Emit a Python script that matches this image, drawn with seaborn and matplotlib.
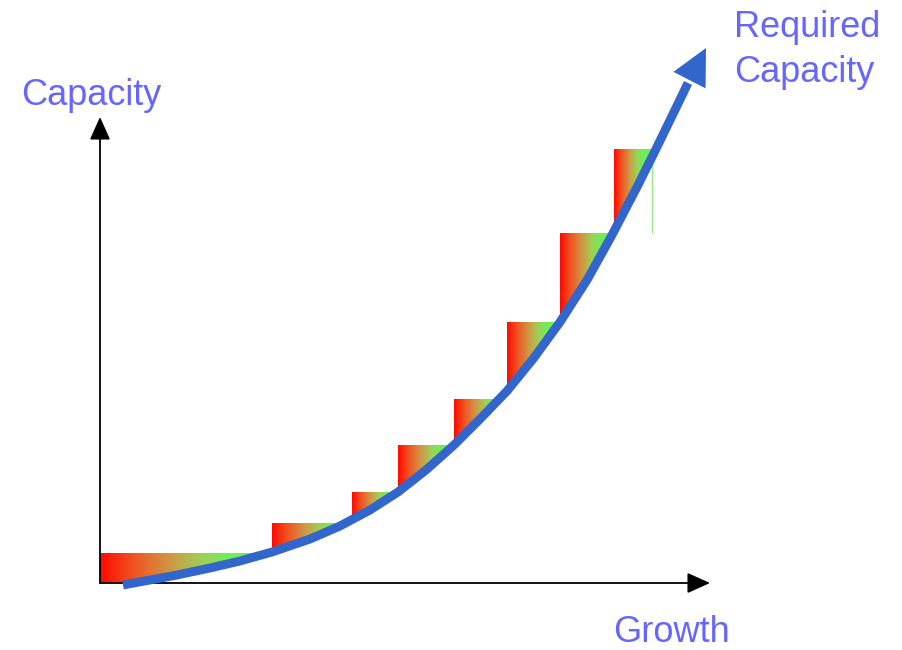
import numpy as np
import matplotlib
matplotlib.use("Agg")
import matplotlib.pyplot as plt
from matplotlib.colors import LinearSegmentedColormap
from matplotlib.patches import Polygon
import pandas as pd
import seaborn as sns

# Capacity added in steps: edges along the growth axis and the level of each step
step_edges = [0, 172, 252, 298, 354, 407, 460, 514, 552]
step_levels = [30, 60, 91, 138, 184, 261, 350, 434]

# Required capacity as growth increases
growth = [23, 50, 77, 110, 140, 172, 210, 240, 270, 298, 326, 354, 380,
          407, 433, 460, 487, 512, 537, 555, 573, 588]
required = [-2, 3, 8, 15, 22, 31, 44, 57, 73, 91, 113, 138, 164,
            192, 224, 261, 303, 348, 396, 432, 469, 500]
required_tip = (606, 535)

# Axis extents
growth_axis_end = 610
capacity_axis_end = 466

label_color = "#6666FF"
curve_color = "#3366CC"

sns.set_theme(style="white")
plt.rcParams["font.family"] = ["Liberation Sans", "DejaVu Sans"]

fig = plt.figure(figsize=(9.03, 6.5), dpi=100)
ax = fig.add_axes([0, 0, 1, 1])

# red -> green shading for each capacity step
step_cmap = LinearSegmentedColormap.from_list(
    "step",
    [(0.0, "#FF0A00"), (0.2, "#F05523"), (0.42, "#CD9B46"),
     (0.6, "#9CD255"), (0.75, "#70EE5A"), (1.0, "#70EE5A")])
ramp = np.linspace(0, 1, 256).reshape(1, -1)

# only the part of each step above the required curve is shaded
clip_vertices = ([(0, 0)] + list(zip(growth, required))
                 + [(growth[-1], 700), (0, 700)])
clip_poly = Polygon(clip_vertices, closed=True, transform=ax.transData,
                    facecolor="none", edgecolor="none")

bottoms = [0] + step_levels[:-1]
for x0, x1, y0, y1 in zip(step_edges[:-1], step_edges[1:], bottoms, step_levels):
    im = ax.imshow(ramp, cmap=step_cmap, extent=(x0, x1, y0, y1),
                   aspect="auto", interpolation="bilinear", zorder=1)
    im.set_clip_path(clip_poly)

# right edge of the top step
ax.vlines(step_edges[-1], step_levels[-2], step_levels[-1],
          color="#9BE88A", lw=1.0, zorder=1)

# axes with arrow heads
axis_arrow = dict(arrowstyle="-|>,head_length=1,head_width=0.45",
                  mutation_scale=14, color="black", lw=1.3,
                  shrinkA=0, shrinkB=0)
ax.annotate("", xy=(0, capacity_axis_end), xytext=(0, 0),
            arrowprops=axis_arrow, zorder=2)
ax.annotate("", xy=(growth_axis_end, 0), xytext=(0, 0),
            arrowprops=axis_arrow, zorder=2)

# required capacity curve
curve = pd.DataFrame({"growth": growth, "required": required})
sns.lineplot(data=curve, x="growth", y="required", sort=False,
             color=curve_color, lw=6.4, solid_capstyle="butt",
             solid_joinstyle="round", ax=ax, zorder=3)
ax.annotate("", xy=required_tip, xytext=(growth[-1], required[-1]),
            arrowprops=dict(arrowstyle="-|>,head_length=1,head_width=0.5",
                            mutation_scale=26, color=curve_color, lw=0,
                            shrinkA=0, shrinkB=0), zorder=3)

# labels
font = dict(fontsize=26, color=label_color, va="baseline", ha="left")
ax.text(-79, 478, "Capacity", **font)
ax.text(513, -59, "Growth", **font)
ax.text(634, 546, "Required", **font)
ax.text(634, 501, "Capacity", **font)

ax.set_xlim(-100, 803)
ax.set_ylim(-67, 583)
ax.axis("off")

fig.savefig("out.png", dpi=100, facecolor="white")
